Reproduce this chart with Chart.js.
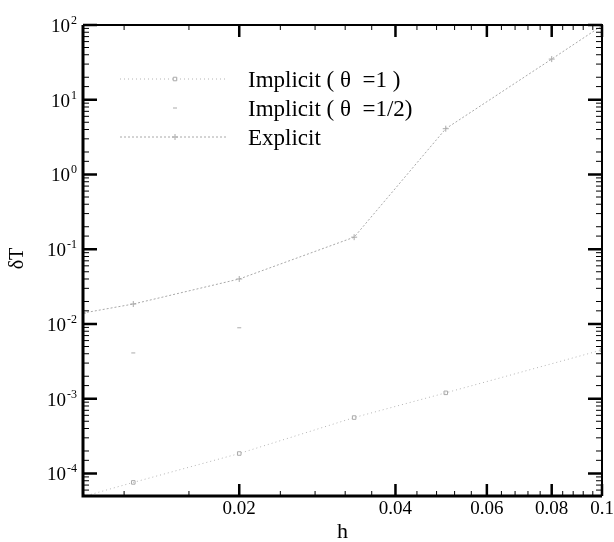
<!DOCTYPE html>
<html>
<head>
<meta charset="utf-8">
<script src="https://cdn.jsdelivr.net/npm/chart.js@4.4.1/dist/chart.umd.min.js"></script>
<style>
  body { margin: 0; background: #fff; }
  #wrap { width: 614px; height: 542px; }
</style>
</head>
<body>
<div id="wrap"><canvas id="errorChart"></canvas></div>
<script>
// values
const hImplicit1 = [0.01, 0.0125, 0.02, 0.0333, 0.05, 0.1];
const dTImplicit1 = [4.9e-5, 7.6e-5, 1.85e-4, 5.6e-4, 1.2e-3, 4.5e-3];
const hImplicitHalf = [0.0125, 0.02];
const dTImplicitHalf = [4.1e-3, 8.9e-3];
const hExplicit = [0.01, 0.0125, 0.02, 0.0333, 0.05, 0.08, 0.1];
const dTExplicit = [0.014, 0.0185, 0.04, 0.145, 4.1, 35, 98];

const seriesLabels = ['Implicit ( \u03b8  =1 )', 'Implicit ( \u03b8  =1/2)', 'Explicit'];
const xMajorTicks = [0.02, 0.04, 0.06, 0.08, 0.1];
const xMinorTicks = [0.012, 0.016, 0.024, 0.028, 0.032, 0.036, 0.044, 0.048, 0.052, 0.056,
  0.064, 0.068, 0.072, 0.076, 0.084, 0.088, 0.092, 0.096];
const yDecades = [-4, -3, -2, -1, 0, 1, 2];

const SERIF = "'Liberation Serif', 'Times New Roman', serif";

function toPoints(xs, ys) {
  return xs.map((x, i) => ({ x: x, y: ys[i] }));
}

const styles = [
  { color: '#b4b4b4', dash: [1, 3], point: 'rect', radius: 2.5 },
  { color: 'rgba(0,0,0,0)', dash: [1, 4], point: 'line', radius: 2 },
  { color: '#a8a8a8', dash: [2, 2], point: 'cross', radius: 3 }
];

// frame, inward ticks, tick labels, titles and legend
const decorPlugin = {
  id: 'decor',
  afterDraw(chart) {
    const ctx = chart.ctx;
    const area = chart.chartArea;
    const xs = chart.scales.x;
    const ys = chart.scales.y;
    ctx.save();

    // y ticks (left and right)
    ctx.strokeStyle = '#000';
    ys.ticks.forEach(t => {
      const py = ys.getPixelForValue(t.value);
      if (py < area.top - 0.5 || py > area.bottom + 0.5) return;
      const major = Math.abs(Math.log10(t.value) - Math.round(Math.log10(t.value))) < 1e-6;
      const len = major ? 14 : 6;
      ctx.lineWidth = major ? 2.5 : 1;
      ctx.beginPath();
      ctx.moveTo(area.left, py); ctx.lineTo(area.left + len, py);
      ctx.moveTo(area.right, py); ctx.lineTo(area.right - len, py);
      ctx.stroke();
    });

    // x ticks (bottom and top)
    xMinorTicks.concat(xMajorTicks).forEach(v => {
      const px = xs.getPixelForValue(v);
      const major = xMajorTicks.includes(v);
      const len = major ? 12 : 5;
      ctx.lineWidth = major ? 2.5 : 1;
      ctx.beginPath();
      ctx.moveTo(px, area.bottom); ctx.lineTo(px, area.bottom - len);
      ctx.moveTo(px, area.top); ctx.lineTo(px, area.top + len);
      ctx.stroke();
    });

    // frame
    ctx.lineWidth = 3;
    ctx.beginPath();
    ctx.moveTo(area.left, area.top); ctx.lineTo(area.left, area.bottom); ctx.lineTo(area.right, area.bottom);
    ctx.stroke();
    ctx.lineWidth = 2;
    ctx.beginPath();
    ctx.moveTo(area.left, area.top); ctx.lineTo(area.right, area.top); ctx.lineTo(area.right, area.bottom);
    ctx.stroke();

    // y labels 10^n
    ctx.fillStyle = '#000';
    yDecades.forEach(n => {
      const py = ys.getPixelForValue(Math.pow(10, n));
      const sup = String(n);
      ctx.font = '12px ' + SERIF;
      const supW = ctx.measureText(sup).width;
      const supX = area.left - 6 - supW;
      ctx.textAlign = 'left';
      ctx.textBaseline = 'alphabetic';
      ctx.fillText(sup, supX, py - 1);
      ctx.font = '19px ' + SERIF;
      ctx.textAlign = 'right';
      ctx.fillText('10', supX - 1, py + 7);
    });

    // x labels
    ctx.font = '19px ' + SERIF;
    ctx.textAlign = 'center';
    ctx.textBaseline = 'top';
    xMajorTicks.forEach(v => {
      ctx.fillText(String(v), xs.getPixelForValue(v), area.bottom + 4);
    });

    // axis titles
    ctx.font = '22px ' + SERIF;
    ctx.textBaseline = 'middle';
    ctx.fillText('h', (area.left + area.right) / 2, 532);
    ctx.save();
    ctx.translate(18, (area.top + area.bottom) / 2 - 2);
    ctx.rotate(-Math.PI / 2);
    ctx.font = '20px ' + SERIF;
    ctx.fillText('\u03b4T', 0, 0);
    ctx.restore();

    // legend
    const baselines = [87, 116, 145];
    seriesLabels.forEach((label, i) => {
      const st = styles[i];
      const ly = baselines[i] - 8;
      ctx.strokeStyle = st.color;
      ctx.lineWidth = 1;
      ctx.setLineDash(st.dash);
      ctx.beginPath();
      ctx.moveTo(area.left + 37, ly); ctx.lineTo(area.left + 145, ly);
      ctx.stroke();
      ctx.setLineDash([]);
      ctx.strokeStyle = '#aaa';
      ctx.fillStyle = 'rgba(0,0,0,0)';
      Chart.helpers.drawPoint(ctx, { pointStyle: st.point, radius: st.radius, borderWidth: 1 }, area.left + 92, ly);
      ctx.fillStyle = '#000';
      ctx.font = '23px ' + SERIF;
      ctx.textAlign = 'left';
      ctx.textBaseline = 'alphabetic';
      ctx.fillText(label, area.left + 165, baselines[i]);
    });
    ctx.restore();
  }
};

const datasets = [
  { label: seriesLabels[0], data: toPoints(hImplicit1, dTImplicit1) },
  { label: seriesLabels[1], data: toPoints(hImplicitHalf, dTImplicitHalf) },
  { label: seriesLabels[2], data: toPoints(hExplicit, dTExplicit) }
].map((ds, i) => Object.assign(ds, {
  borderColor: styles[i].color,
  borderWidth: 1,
  borderDash: styles[i].dash,
  pointStyle: styles[i].point,
  pointRadius: styles[i].radius,
  pointBorderColor: '#aaa',
  pointBackgroundColor: 'rgba(0,0,0,0)',
  pointBorderWidth: 1,
  fill: false,
  tension: 0
}));

new Chart(document.getElementById('errorChart'), {
  type: 'line',
  data: { datasets: datasets },
  options: {
    responsive: true,
    maintainAspectRatio: false,
    animation: false,
    layout: { padding: { left: 0, right: 12, top: 25, bottom: 0 } },
    plugins: { legend: { display: false }, tooltip: { enabled: false } },
    scales: {
      x: {
        type: 'logarithmic',
        min: 0.01,
        max: 0.1,
        grid: { display: false },
        border: { display: false },
        ticks: { display: false },
        afterFit: s => { s.height = 46; }
      },
      y: {
        type: 'logarithmic',
        min: 5e-5,
        max: 100,
        grid: { display: false },
        border: { display: false },
        ticks: { display: false },
        afterFit: s => { s.width = 83; }
      }
    }
  },
  plugins: [decorPlugin]
});
</script>
</body>
</html>
